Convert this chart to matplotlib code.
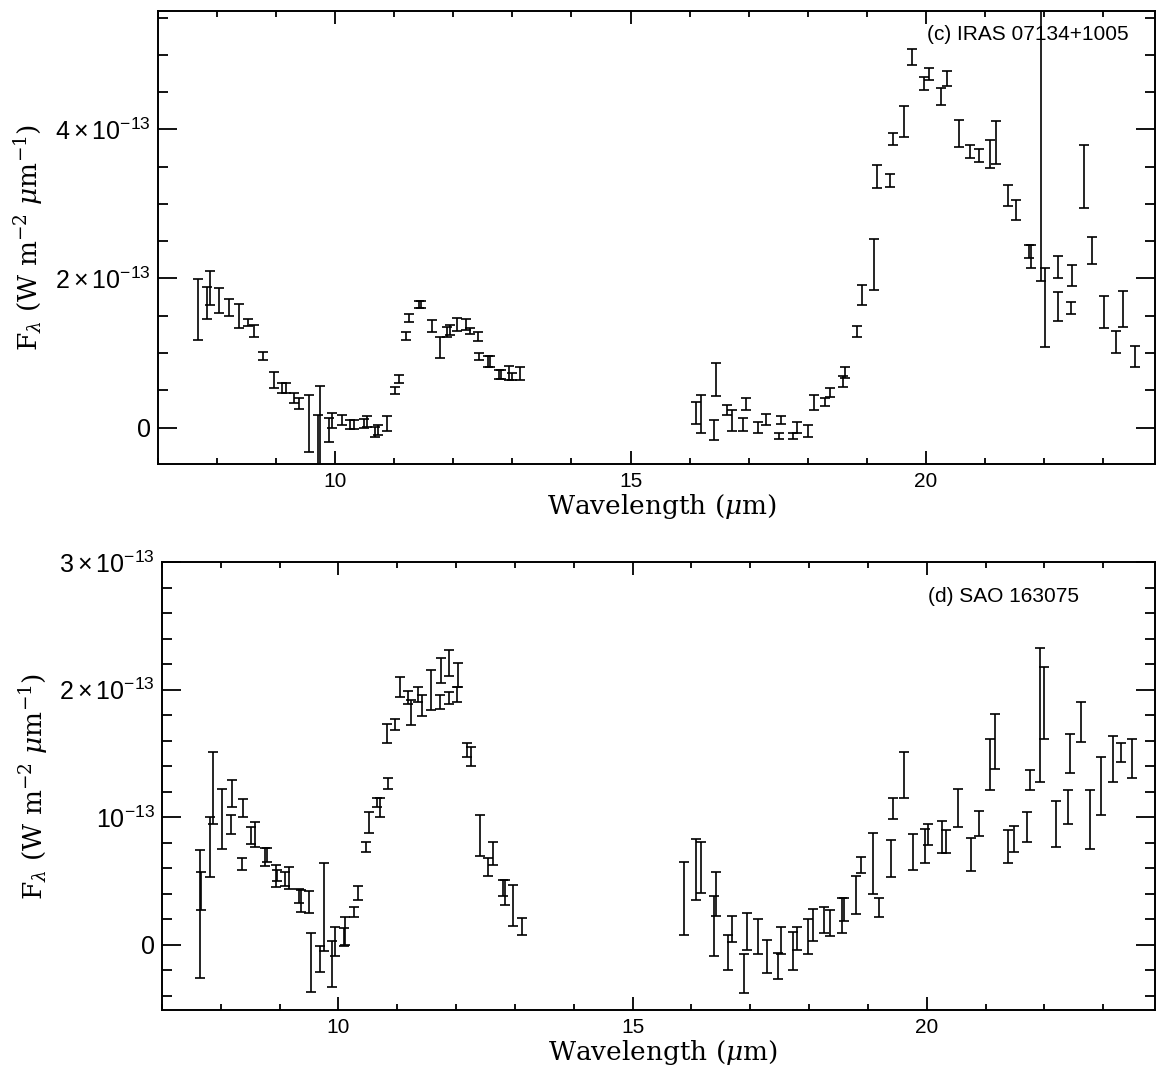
#! /usr/bin/env python3
#

import numpy as np
import matplotlib
matplotlib.use("Agg")
import matplotlib.pyplot as plt
from matplotlib.ticker import MultipleLocator

#  Fluxes are in units of 1e-13 W m^-2 um^-1, read as the top and bottom
#  of each error bar.

#  (c) IRAS 07134+1005
c_wl = [7.67, 7.83, 7.88, 8.03, 8.21, 8.37, 8.53, 8.62, 8.78, 8.96,
        9.10, 9.16, 9.31, 9.38, 9.55, 9.71, 9.75, 9.89, 9.94, 10.11,
        10.25, 10.32, 10.49, 10.54, 10.68, 10.73, 10.87, 11.01, 11.08, 11.20,
        11.25, 11.41, 11.46, 11.63, 11.77, 11.90, 11.94, 12.07, 12.21, 12.29,
        12.42, 12.43, 12.58, 12.62, 12.77, 12.81, 12.95, 12.99, 13.13,
        16.10, 16.19, 16.41, 16.45, 16.64, 16.71, 16.91, 16.95, 17.16, 17.30,
        17.51, 17.55, 17.75, 17.82, 18.01, 18.11, 18.29, 18.38, 18.59, 18.63,
        18.83, 18.92, 19.12, 19.18, 19.39, 19.44, 19.63, 19.76, 19.97, 20.06,
        20.25, 20.35, 20.56, 20.75, 20.90, 21.09, 21.18, 21.39, 21.53, 21.75,
        21.78, 21.95, 22.01, 22.24, 22.24, 22.45, 22.48, 22.67, 22.81, 23.01,
        23.22, 23.34, 23.54]
c_hi = [1.99, 1.89, 2.10, 1.87, 1.72, 1.66, 1.46, 1.37, 1.02, 0.74,
        0.60, 0.60, 0.47, 0.39, 0.44, 0.17, 0.56, 0.13, 0.19, 0.17,
        0.10, 0.10, 0.11, 0.15, 0.01, 0.04, 0.15, 0.54, 0.70, 1.28,
        1.53, 1.70, 1.70, 1.44, 1.21, 1.35, 1.37, 1.47, 1.45, 1.34,
        1.28, 1.00, 0.96, 0.96, 0.77, 0.77, 0.82, 0.73, 0.81,
        0.34, 0.43, 0.10, 0.87, 0.30, 0.23, 0.13, 0.40, 0.07, 0.18,
        -0.07, 0.15, -0.07, 0.07, 0.04, 0.44, 0.39, 0.53, 0.69, 0.81,
        1.36, 1.91, 2.53, 3.52, 3.40, 3.95, 4.31, 5.08, 4.70, 4.83,
        4.55, 4.78, 4.13, 3.79, 3.74, 3.86, 4.11, 3.26, 3.05, 2.45,
        2.45, 9.00, 2.14, 2.30, 1.82, 1.68, 2.18, 3.79, 2.56, 1.76,
        1.30, 1.83, 1.10]
c_lo = [1.17, 1.46, 1.65, 1.54, 1.50, 1.33, 1.36, 1.22, 0.90, 0.53,
        0.47, 0.47, 0.33, 0.25, -0.33, -0.60, -0.60, -0.20, -0.01, 0.04,
        -0.02, -0.02, -0.01, 0.01, -0.13, -0.10, -0.05, 0.45, 0.60, 1.17,
        1.42, 1.61, 1.61, 1.28, 0.93, 1.21, 1.24, 1.30, 1.31, 1.26,
        1.16, 0.91, 0.81, 0.81, 0.65, 0.65, 0.64, 0.64, 0.64,
        0.05, -0.07, -0.17, 0.42, 0.17, -0.05, -0.05, 0.23, -0.08, 0.04,
        -0.16, 0.05, -0.16, -0.07, -0.13, 0.23, 0.29, 0.41, 0.55, 0.66,
        1.22, 1.64, 1.85, 3.21, 3.23, 3.79, 3.90, 4.86, 4.53, 4.67,
        4.33, 4.58, 3.77, 3.62, 3.56, 3.48, 3.54, 2.97, 2.79, 2.28,
        2.14, 1.96, 1.08, 2.00, 1.43, 1.52, 1.90, 2.94, 2.19, 1.34,
        1.00, 1.35, 0.81]

#  (d) SAO 163075
d_wl = [7.65, 7.66, 7.81, 7.86, 8.02, 8.17, 8.19, 8.36, 8.37, 8.52,
        8.58, 8.76, 8.78, 8.94, 8.96, 9.10, 9.16, 9.33, 9.36, 9.50,
        9.54, 9.69, 9.75, 9.89, 9.94, 10.09, 10.12, 10.26, 10.34, 10.47,
        10.52, 10.66, 10.70, 10.83, 10.84, 10.96, 11.05, 11.18, 11.23, 11.36,
        11.42, 11.58, 11.73, 11.74, 11.88, 11.88, 12.02, 12.03, 12.19, 12.25,
        12.41, 12.54, 12.63, 12.79, 12.83, 12.97, 13.12,
        15.88, 16.07, 16.16, 16.38, 16.42, 16.63, 16.69, 16.90, 16.94, 17.14,
        17.29, 17.48, 17.52, 17.73, 17.79, 17.98, 18.07, 18.26, 18.35, 18.56,
        18.60, 18.79, 18.89, 19.08, 19.19, 19.39, 19.42, 19.61, 19.77, 19.97,
        20.03, 20.26, 20.33, 20.54, 20.76, 20.89, 21.07, 21.16, 21.38, 21.49,
        21.70, 21.75, 21.93, 22.00, 22.20, 22.40, 22.43, 22.63, 22.78, 22.97,
        23.16, 23.30, 23.49]
d_hi = [0.74, 0.57, 1.00, 1.51, 1.22, 1.02, 1.29, 0.68, 1.14, 0.92,
        0.96, 0.76, 0.76, 0.63, 0.59, 0.57, 0.61, 0.44, 0.43, 0.42,
        0.09, -0.01, 0.64, 0.03, 0.14, 0.13, 0.22, 0.30, 0.46, 0.81,
        1.04, 1.15, 1.15, 1.73, 1.31, 1.77, 2.10, 1.99, 1.92, 2.02,
        1.96, 2.15, 1.96, 2.25, 2.31, 1.98, 2.02, 2.21, 1.58, 1.55,
        1.02, 0.68, 0.81, 0.51, 0.51, 0.47, 0.21,
        0.65, 0.83, 0.81, 0.38, 0.57, 0.08, 0.23, -0.07, 0.25, 0.20,
        0.04, -0.06, 0.14, 0.10, 0.14, 0.20, 0.28, 0.30, 0.27, 0.37,
        0.37, 0.54, 0.69, 0.88, 0.37, 0.82, 1.15, 1.51, 0.87, 0.91,
        0.95, 0.97, 0.90, 1.22, 0.84, 1.05, 1.61, 1.81, 0.90, 0.93,
        1.04, 1.37, 2.33, 2.18, 1.13, 1.21, 1.65, 1.90, 1.21, 1.47,
        1.64, 1.58, 1.61]
d_lo = [-0.26, 0.27, 0.53, 0.95, 0.75, 0.87, 1.08, 0.59, 1.00, 0.79,
        0.77, 0.62, 0.65, 0.45, 0.50, 0.46, 0.44, 0.33, 0.26, 0.25,
        -0.37, -0.21, -0.05, -0.33, -0.09, -0.01, 0.00, 0.22, 0.35, 0.73,
        0.88, 1.08, 1.00, 1.58, 1.22, 1.68, 1.94, 1.89, 1.72, 1.90,
        1.79, 1.84, 1.85, 2.05, 2.11, 1.89, 1.90, 2.02, 1.47, 1.40,
        0.70, 0.54, 0.63, 0.38, 0.31, 0.15, 0.08,
        0.08, 0.35, 0.41, -0.09, 0.23, -0.20, 0.02, -0.38, -0.04, -0.07,
        -0.22, -0.27, -0.07, -0.20, -0.04, -0.07, 0.03, 0.09, 0.07, 0.09,
        0.19, 0.24, 0.56, 0.40, 0.22, 0.53, 0.99, 1.15, 0.59, 0.64,
        0.78, 0.72, 0.72, 0.92, 0.58, 0.85, 1.21, 1.38, 0.64, 0.73,
        0.81, 1.21, 1.28, 1.61, 0.77, 0.95, 1.35, 1.59, 0.75, 1.02,
        1.28, 1.43, 1.31]

c_ticks = [0, 2, 4]
c_ticklabels = ['0', r'$2\times10^{-13}$', r'$4\times10^{-13}$']
d_ticks = [0, 1, 2, 3]
d_ticklabels = ['0', r'$10^{-13}$', r'$2\times10^{-13}$', r'$3\times10^{-13}$']

plt.rcParams['font.family'] = ['Liberation Sans', 'DejaVu Sans']
plt.rcParams['mathtext.fontset'] = 'custom'
plt.rcParams['mathtext.rm'] = 'Liberation Sans'
plt.rcParams['mathtext.it'] = 'Liberation Sans:italic'
plt.rcParams['axes.linewidth'] = 1.4


def spectrum_panel(ax, wl, hi, lo, name, ylim, yticks, yticklabels, yminor,
                   name_y):

    #  Error bars only, no symbols.
    wl = np.array(wl)
    hi = np.array(hi)
    lo = np.array(lo)
    mid = 0.5 * (hi + lo)
    err = 0.5 * (hi - lo)
    ax.errorbar(wl, mid, yerr=err, fmt='none', ecolor='black',
                elinewidth=1.2, capsize=3.5, capthick=1.2)

    ax.set_xlim(7.0, 23.88)
    ax.set_ylim(*ylim)
    ax.xaxis.set_major_locator(MultipleLocator(5))
    ax.xaxis.set_minor_locator(MultipleLocator(1))
    ax.set_yticks(yticks)
    ax.set_yticklabels(yticklabels, math_fontfamily='custom', fontsize=18)
    ax.yaxis.set_minor_locator(MultipleLocator(yminor))

    ax.tick_params(which='both', direction='in', top=True, right=True,
                   width=1.3)
    ax.tick_params(axis='x', which='major', length=9.5, pad=6, labelsize=15)
    ax.tick_params(axis='x', which='minor', length=4.5)
    ax.tick_params(axis='y', which='major', length=14, pad=5)
    ax.tick_params(axis='y', which='minor', length=7.5)

    ax.set_xlabel(r'Wavelength ($\mu$m)', family='DejaVu Serif',
                  fontsize=19, math_fontfamily='dejavuserif')
    ax.set_ylabel(r'F$_\lambda$ (W m$^{-2}$ $\mu$m$^{-1}$)',
                  family='DejaVu Serif', fontsize=19,
                  math_fontfamily='dejavuserif')
    ax.xaxis.set_label_coords(0.505, -0.062)
    ax.yaxis.set_label_coords(-0.113, 0.5)

    ax.text(0.771, name_y, name, transform=ax.transAxes, ha='left', va='top',
            fontsize=15)


fig = plt.figure(figsize=(11.56, 10.67), dpi=100)

#  Top panel.
ax1 = fig.add_axes([0.1367, 0.5651, 0.8625, 0.4246])
spectrum_panel(ax1, c_wl, c_hi, c_lo, '(c) IRAS 07134+1005',
               (-0.49, 5.59), c_ticks, c_ticklabels, 0.5, 0.968)

#  Bottom panel.
ax2 = fig.add_axes([0.1401, 0.0534, 0.859, 0.4199])
spectrum_panel(ax2, d_wl, d_hi, d_lo, '(d) SAO 163075',
               (-0.51, 3.0), d_ticks, d_ticklabels, 0.2, 0.945)

fig.savefig('out.png', dpi=100)
